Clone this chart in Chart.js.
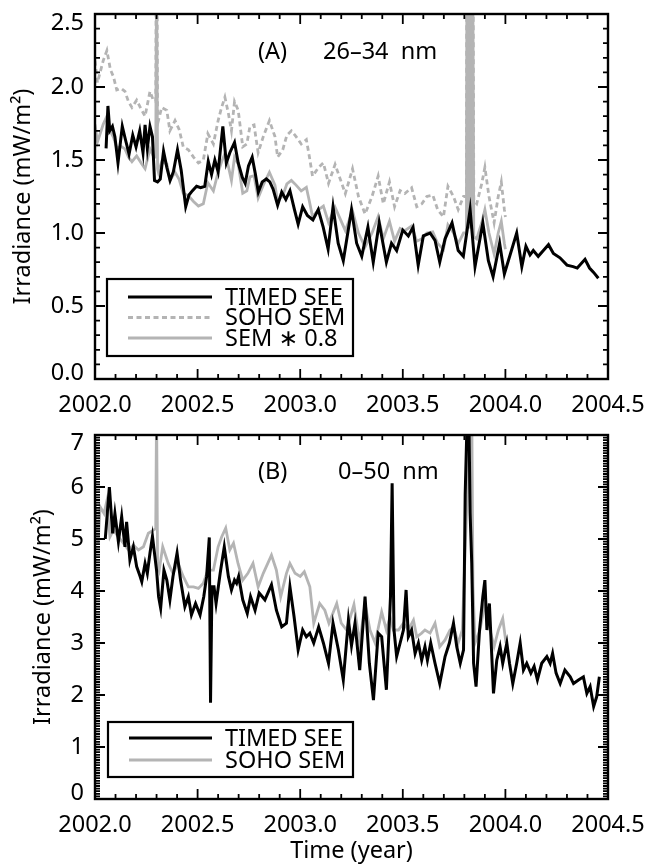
<!DOCTYPE html>
<html>
<head>
<meta charset="utf-8">
<title>EUV irradiance</title>
<script src="https://cdn.jsdelivr.net/npm/chart.js@4.4.0/dist/chart.umd.min.js"></script>
<style>
  html, body { margin: 0; padding: 0; background: #fff; }
  #wrap { position: relative; width: 649px; height: 865px; }
  canvas { position: absolute; left: 0; }
  #panelA { top: 0; }
  #panelB { top: 420px; }
</style>
</head>
<body>
<div id="wrap">
  <canvas id="panelA" width="649" height="420"></canvas>
  <canvas id="panelB" width="649" height="445"></canvas>
</div>
<script>
const FONT = '"Noto Sans", "DejaVu Sans", sans-serif';
const FONT_SIZE = 23.5;
const BLACK = '#000000';
const GRAY = '#b4b4b4';

// axis ticks
const yearTicks = [2002.0, 2002.5, 2003.0, 2003.5, 2004.0, 2004.5];
const irrTicksA = [0, 0.5, 1.0, 1.5, 2.0, 2.5];
const irrTicksB = [0, 1, 2, 3, 4, 5, 6, 7];

const seriesA = ['TIMED SEE', 'SOHO SEM', 'SEM \u2217 0.8'];
const seriesB = ['TIMED SEE', 'SOHO SEM'];

// (A) 26-34 nm, [year, mW/m^2]
const seeA = [
  [2002.054,1.58],[2002.063,1.87],[2002.072,1.70],[2002.085,1.73],[2002.097,1.66],[2002.112,1.48],
  [2002.133,1.73],[2002.150,1.63],[2002.166,1.54],[2002.184,1.67],[2002.200,1.59],[2002.218,1.70],
  [2002.234,1.55],[2002.244,1.74],[2002.255,1.58],[2002.268,1.73],[2002.280,1.66],[2002.290,1.36],
  [2002.305,1.35],[2002.318,1.37],[2002.334,1.56],[2002.350,1.45],[2002.366,1.36],[2002.382,1.42],
  [2002.402,1.57],[2002.420,1.43],[2002.442,1.18],[2002.458,1.26],[2002.475,1.29],[2002.495,1.32],
  [2002.515,1.31],[2002.535,1.32],[2002.552,1.49],[2002.568,1.40],[2002.584,1.50],[2002.600,1.42],
  [2002.623,1.73],[2002.640,1.48],[2002.657,1.55],[2002.680,1.62],[2002.698,1.48],[2002.718,1.38],
  [2002.732,1.34],[2002.748,1.46],[2002.766,1.52],[2002.782,1.40],[2002.796,1.28],[2002.815,1.35],
  [2002.835,1.37],[2002.852,1.35],[2002.868,1.30],[2002.890,1.19],[2002.910,1.28],[2002.930,1.23],
  [2002.950,1.29],[2002.972,1.16],[2002.990,1.06],[2003.012,1.18],[2003.035,1.12],[2003.062,1.09],
  [2003.088,1.16],[2003.112,1.04],[2003.136,0.89],[2003.160,1.18],[2003.185,0.93],[2003.210,0.81],
  [2003.250,1.16],[2003.275,0.93],[2003.300,0.84],[2003.330,1.04],[2003.356,0.80],[2003.385,1.07],
  [2003.420,0.80],[2003.445,0.93],[2003.470,0.88],[2003.500,1.02],[2003.527,0.98],[2003.550,1.04],
  [2003.575,0.78],[2003.600,0.98],[2003.633,1.00],[2003.657,0.95],[2003.680,0.80],[2003.706,0.96],
  [2003.740,1.07],[2003.770,0.88],[2003.795,0.84],[2003.828,1.16],[2003.852,0.77],[2003.890,1.07],
  [2003.917,0.81],[2003.940,0.70],[2003.972,0.93],[2003.995,0.72],[2004.055,1.00],[2004.080,0.77],
  [2004.100,0.91],[2004.120,0.85],[2004.136,0.88],[2004.160,0.84],[2004.185,0.88],[2004.210,0.92],
  [2004.234,0.86],[2004.266,0.83],[2004.300,0.78],[2004.330,0.77],[2004.350,0.76],[2004.388,0.82],
  [2004.410,0.76],[2004.430,0.73],[2004.453,0.69]
];

const semA = [
  [2002.000,2.18],[2002.012,2.03],[2002.025,2.10],[2002.040,2.18],[2002.058,2.25],[2002.075,2.12],
  [2002.090,2.07],[2002.106,1.98],[2002.128,1.99],[2002.146,1.97],[2002.163,1.90],[2002.180,1.86],
  [2002.203,1.91],[2002.228,1.84],[2002.244,1.80],[2002.268,1.97],[2002.284,1.91],[2002.296,1.90],
  [2002.300,3.50],[2002.305,1.80],[2002.309,1.77],[2002.325,1.86],[2002.350,1.84],[2002.365,1.70],
  [2002.390,1.77],[2002.410,1.71],[2002.430,1.59],[2002.455,1.57],[2002.480,1.52],[2002.504,1.48],
  [2002.528,1.50],[2002.550,1.68],[2002.577,1.61],[2002.600,1.77],[2002.617,1.86],[2002.633,1.93],
  [2002.650,1.82],[2002.665,1.70],[2002.680,1.90],[2002.698,1.84],[2002.720,1.59],[2002.740,1.61],
  [2002.755,1.73],[2002.775,1.74],[2002.795,1.55],[2002.820,1.66],[2002.850,1.77],[2002.877,1.66],
  [2002.890,1.52],[2002.915,1.57],[2002.935,1.67],[2002.957,1.70],[2002.980,1.66],[2003.005,1.61],
  [2003.030,1.64],[2003.045,1.52],[2003.060,1.39],[2003.090,1.45],[2003.113,1.48],[2003.138,1.34],
  [2003.170,1.47],[2003.190,1.39],[2003.220,1.27],[2003.255,1.44],[2003.284,1.25],[2003.316,1.13],
  [2003.350,1.25],[2003.380,1.39],[2003.405,1.20],[2003.435,1.35],[2003.460,1.18],[2003.487,1.29],
  [2003.510,1.27],[2003.543,1.31],[2003.568,1.18],[2003.593,1.20],[2003.617,1.25],[2003.646,1.26],
  [2003.670,1.16],[2003.698,1.11],[2003.720,1.32],[2003.747,1.25],[2003.770,1.16],[2003.796,1.25],
  [2003.810,1.25],[2003.813,4.00],[2003.819,1.30],[2003.822,4.00],[2003.828,1.30],[2003.831,4.00],
  [2003.837,1.30],[2003.840,4.00],[2003.846,1.22],[2003.860,1.20],[2003.885,1.34],[2003.900,1.45],
  [2003.920,1.25],[2003.945,1.07],[2003.965,1.25],[2003.980,1.35],[2003.995,1.16],[2004.000,1.11]
];

// (B) 0-50 nm, [year, mW/m^2]
const seeB = [
  [2002.050,5.00],[2002.070,6.00],[2002.086,5.11],[2002.097,5.49],[2002.114,4.95],[2002.130,5.43],
  [2002.146,4.85],[2002.154,5.33],[2002.170,4.60],[2002.187,4.85],[2002.203,4.47],[2002.220,4.28],
  [2002.228,4.18],[2002.244,4.53],[2002.255,4.34],[2002.268,4.73],[2002.280,5.05],[2002.300,4.40],
  [2002.310,3.89],[2002.320,3.67],[2002.336,4.40],[2002.350,4.21],[2002.365,3.83],[2002.380,4.28],
  [2002.400,4.73],[2002.417,4.21],[2002.438,3.70],[2002.455,3.89],[2002.470,3.54],[2002.490,3.76],
  [2002.512,3.54],[2002.530,3.89],[2002.544,4.28],[2002.557,5.03],[2002.563,1.85],[2002.570,4.08],
  [2002.580,4.08],[2002.590,3.76],[2002.610,4.34],[2002.630,4.85],[2002.650,4.28],[2002.665,4.02],
  [2002.680,4.21],[2002.690,4.15],[2002.700,4.28],[2002.720,3.83],[2002.742,3.57],[2002.758,3.89],
  [2002.780,3.63],[2002.800,3.96],[2002.828,3.83],[2002.860,4.12],[2002.884,3.63],[2002.910,3.31],
  [2002.933,3.38],[2002.950,4.08],[2002.970,3.51],[2002.990,2.87],[2003.012,3.25],[2003.030,3.12],
  [2003.047,3.19],[2003.066,3.00],[2003.090,3.31],[2003.113,3.00],[2003.138,2.61],[2003.160,3.38],
  [2003.186,2.87],[2003.210,2.29],[2003.235,3.44],[2003.250,2.95],[2003.267,3.38],[2003.290,2.48],
  [2003.316,3.89],[2003.337,2.61],[2003.357,1.90],[2003.380,3.19],[2003.397,3.12],[2003.420,2.10],
  [2003.440,3.89],[2003.448,6.07],[2003.457,3.25],[2003.470,2.74],[2003.487,3.00],[2003.503,3.25],
  [2003.516,4.02],[2003.527,3.12],[2003.543,3.25],[2003.560,2.80],[2003.576,3.00],[2003.592,2.67],
  [2003.608,2.93],[2003.620,2.67],[2003.636,3.00],[2003.657,2.61],[2003.680,2.22],[2003.706,2.74],
  [2003.727,3.00],[2003.747,3.38],[2003.763,2.93],[2003.780,2.61],[2003.796,2.87],[2003.804,5.85],
  [2003.814,7.40],[2003.822,7.40],[2003.828,5.50],[2003.836,4.53],[2003.845,2.61],[2003.857,2.16],
  [2003.874,3.25],[2003.890,3.89],[2003.900,4.21],[2003.910,3.25],[2003.922,3.76],[2003.942,2.03],
  [2003.958,2.67],[2003.974,2.93],[2003.987,2.61],[2004.007,3.00],[2004.020,2.61],[2004.036,2.22],
  [2004.055,2.61],[2004.072,3.00],[2004.088,2.48],[2004.104,2.61],[2004.124,2.42],[2004.140,2.55],
  [2004.156,2.29],[2004.177,2.61],[2004.202,2.74],[2004.218,2.61],[2004.230,2.80],[2004.247,2.42],
  [2004.267,2.22],[2004.290,2.48],[2004.316,2.35],[2004.332,2.22],[2004.356,2.29],[2004.380,2.35],
  [2004.397,2.03],[2004.413,2.16],[2004.430,1.78],[2004.445,1.97],[2004.458,2.35]
];

const semB = [
  [2002.000,5.69],[2002.015,4.92],[2002.025,5.62],[2002.044,5.49],[2002.057,5.72],[2002.073,5.04],
  [2002.090,5.17],[2002.114,5.04],[2002.138,4.92],[2002.163,4.79],[2002.187,4.88],[2002.212,4.79],
  [2002.236,4.85],[2002.260,5.11],[2002.284,5.17],[2002.296,5.20],[2002.300,7.50],[2002.305,4.50],
  [2002.313,4.40],[2002.330,4.85],[2002.357,4.53],[2002.380,4.34],[2002.405,4.53],[2002.430,4.28],
  [2002.455,4.08],[2002.480,4.08],[2002.504,4.05],[2002.528,4.15],[2002.550,4.40],[2002.577,4.40],
  [2002.600,4.85],[2002.617,5.04],[2002.637,5.21],[2002.657,4.79],[2002.675,4.92],[2002.697,4.53],
  [2002.720,4.21],[2002.745,4.34],[2002.770,4.53],[2002.795,4.08],[2002.820,4.34],[2002.860,4.69],
  [2002.884,4.40],[2002.905,3.89],[2002.933,4.34],[2002.950,4.53],[2002.975,4.34],[2003.000,4.28],
  [2003.020,4.37],[2003.047,4.08],[2003.066,3.38],[2003.095,3.76],[2003.120,3.63],[2003.140,3.38],
  [2003.178,3.76],[2003.200,3.38],[2003.226,3.25],[2003.262,3.74],[2003.290,3.00],[2003.316,3.76],
  [2003.340,3.25],[2003.365,3.00],[2003.397,3.60],[2003.420,3.25],[2003.438,3.51],[2003.454,3.25],
  [2003.479,3.25],[2003.503,3.38],[2003.527,3.25],[2003.552,3.44],[2003.568,3.12],[2003.592,3.19],
  [2003.608,3.25],[2003.633,3.19],[2003.657,3.38],[2003.680,2.93],[2003.706,3.06],[2003.730,3.25],
  [2003.747,3.31],[2003.770,3.00],[2003.790,3.25],[2003.815,6.00],[2003.826,7.50],[2003.836,7.50],
  [2003.842,4.10],[2003.852,3.00],[2003.876,3.25],[2003.900,3.76],[2003.925,3.25],[2003.945,2.93],
  [2003.966,3.25],[2003.987,3.47],[2004.003,3.00]
];

const pts = arr => arr.map(([x, y]) => ({ x, y }));

// tick values from min to max, flagged major/minor
function stepValues(min, max, minor, major) {
  const n = Math.round((max - min) / minor);
  const out = [];
  for (let i = 0; i <= n; i++) {
    const v = min + i * minor;
    const r = v / major;
    out.push([v, Math.abs(r - Math.round(r)) < 1e-6]);
  }
  return out;
}

// box, inward ticks on all four sides, y labels, panel tag and boxed legend
function framePlugin(o) {
  return {
    id: 'frame',
    afterDatasetsDraw(chart) {
      const { ctx, chartArea: a } = chart;
      const xs = chart.scales.x, ys = chart.scales.y;
      ctx.save();
      ctx.strokeStyle = BLACK;
      ctx.setLineDash([]);
      ctx.lineWidth = 1.8;
      ctx.beginPath();
      stepValues(xs.min, xs.max, o.xMinor, o.xMajor).forEach(([v, major]) => {
        const px = xs.getPixelForValue(v);
        const len = major ? o.majorLen : o.minorLen;
        ctx.moveTo(px, a.bottom); ctx.lineTo(px, a.bottom - len);
        ctx.moveTo(px, a.top); ctx.lineTo(px, a.top + len);
      });
      stepValues(ys.min, ys.max, o.yMinor, o.yMajor).forEach(([v, major]) => {
        const py = ys.getPixelForValue(v);
        const len = major ? o.majorLen : o.minorLen;
        ctx.moveTo(a.left, py); ctx.lineTo(a.left + len, py);
        ctx.moveTo(a.right, py); ctx.lineTo(a.right - len, py);
      });
      ctx.stroke();
      ctx.lineWidth = 2.4;
      ctx.strokeRect(a.left, a.top, a.right - a.left, a.bottom - a.top);

      ctx.fillStyle = BLACK;
      ctx.font = FONT_SIZE + 'px ' + FONT;
      ctx.textBaseline = 'middle';

      // y tick labels; the two end labels sit a little inside the box
      ctx.textAlign = 'right';
      ys.ticks.forEach(t => {
        let py = ys.getPixelForValue(t.value);
        if (t.value === ys.max) py += o.topInset;
        if (t.value === ys.min) py -= o.bottomInset;
        ctx.fillText(t.value.toFixed(o.yDigits), a.left - 11, py);
      });

      ctx.textAlign = 'left';
      ctx.fillText(o.tag, a.left + o.tagDx, a.top + o.tagDy);
      ctx.fillText(o.band, a.left + o.bandDx, a.top + o.tagDy);

      const L = o.legend;
      const bx = a.left + L.dx, by = a.bottom - L.up;
      ctx.fillStyle = '#ffffff';
      ctx.fillRect(bx, by, L.w, L.h);
      ctx.lineWidth = 2.2;
      ctx.strokeRect(bx, by, L.w, L.h);
      chart.data.datasets.forEach((ds, i) => {
        const ry = by + L.first + i * L.gap;
        ctx.beginPath();
        ctx.strokeStyle = ds.borderColor;
        ctx.lineWidth = ds.borderWidth;
        ctx.setLineDash(ds.borderDash || []);
        ctx.moveTo(bx + L.lineFrom, ry);
        ctx.lineTo(bx + L.lineTo, ry);
        ctx.stroke();
        ctx.setLineDash([]);
        ctx.fillStyle = BLACK;
        ctx.fillText(ds.label, bx + L.textAt, ry + 1);
      });
      ctx.restore();
    }
  };
}

// keep the plot box where the layout padding puts it
function noEdgePadding(s) {
  s.paddingLeft = 0; s.paddingRight = 0; s.paddingTop = 0; s.paddingBottom = 0;
}

function makePanel(id, datasets, p) {
  const font = { family: FONT, size: FONT_SIZE };
  return new Chart(document.getElementById(id), {
    type: 'line',
    data: { datasets },
    plugins: [framePlugin(p.frame)],
    options: {
      responsive: false,
      animation: false,
      devicePixelRatio: 1,
      layout: { padding: { top: p.padTop, right: 41, bottom: 0, left: 0 } },
      elements: { point: { radius: 0 }, line: { tension: 0 } },
      plugins: {
        legend: { display: false },
        tooltip: { enabled: false }
      },
      scales: {
        x: {
          type: 'linear', min: 2002, max: 2004.5,
          afterBuildTicks: s => { s.ticks = yearTicks.map(value => ({ value })); },
          afterFit: s => { s.height = p.xHeight; noEdgePadding(s); },
          grid: { display: false, drawTicks: false },
          border: { display: false },
          ticks: { color: BLACK, font, padding: 12, maxRotation: 0, autoSkip: false,
                   callback: v => v.toFixed(1) },
          title: { display: !!p.xTitle, text: p.xTitle, color: BLACK, font,
                   padding: { top: 0, bottom: 0 } }
        },
        y: {
          type: 'linear', min: 0, max: p.yTicks[p.yTicks.length - 1],
          afterBuildTicks: s => { s.ticks = p.yTicks.map(value => ({ value })); },
          afterFit: s => { s.width = 95; noEdgePadding(s); },
          grid: { display: false, drawTicks: false },
          border: { display: false },
          ticks: { display: false },
          title: { display: true, text: 'Irradiance (mW/m\u00b2)', color: BLACK, font,
                   padding: { top: p.yTitlePad, bottom: 0 } }
        }
      }
    }
  });
}

const chartA = makePanel('panelA', [
  { label: seriesA[0], data: pts(seeA), borderColor: BLACK, borderWidth: 3 },
  { label: seriesA[1], data: pts(semA), borderColor: GRAY, borderWidth: 2.8, borderDash: [5, 3.5] },
  { label: seriesA[2], data: pts(semA.map(([t, v]) => [t, v * 0.8])), borderColor: GRAY, borderWidth: 2.8 }
], {
  padTop: 14, xHeight: 41, yTicks: irrTicksA, yTitlePad: 9,
  frame: {
    xMinor: 0.1, xMajor: 0.5, yMinor: 0.1, yMajor: 0.5, majorLen: 10, minorLen: 5,
    yDigits: 1, topInset: 9, bottomInset: 6,
    tag: '(A)', band: '26\u201334  nm', tagDx: 163, bandDx: 228, tagDy: 38,
    legend: { dx: 12, up: 100, w: 246, h: 77, first: 18, gap: 20.5, lineFrom: 21, lineTo: 105, textAt: 118 }
  }
});

const chartB = makePanel('panelB', [
  { label: seriesB[0], data: pts(seeB), borderColor: BLACK, borderWidth: 3 },
  { label: seriesB[1], data: pts(semB), borderColor: GRAY, borderWidth: 2.8 }
], {
  padTop: 15, xHeight: 66, xTitle: 'Time (year)', yTicks: irrTicksB, yTitlePad: 29,
  frame: {
    xMinor: 0.1, xMajor: 0.5, yMinor: 0.05, yMajor: 1, majorLen: 10, minorLen: 5,
    yDigits: 0, topInset: 8, bottomInset: 6,
    tag: '(B)', band: '0\u201350  nm', tagDx: 163, bandDx: 243, tagDy: 37,
    legend: { dx: 13, up: 77, w: 245, h: 55, first: 16, gap: 22, lineFrom: 21, lineTo: 104, textAt: 117 }
  }
});
</script>
</body>
</html>
